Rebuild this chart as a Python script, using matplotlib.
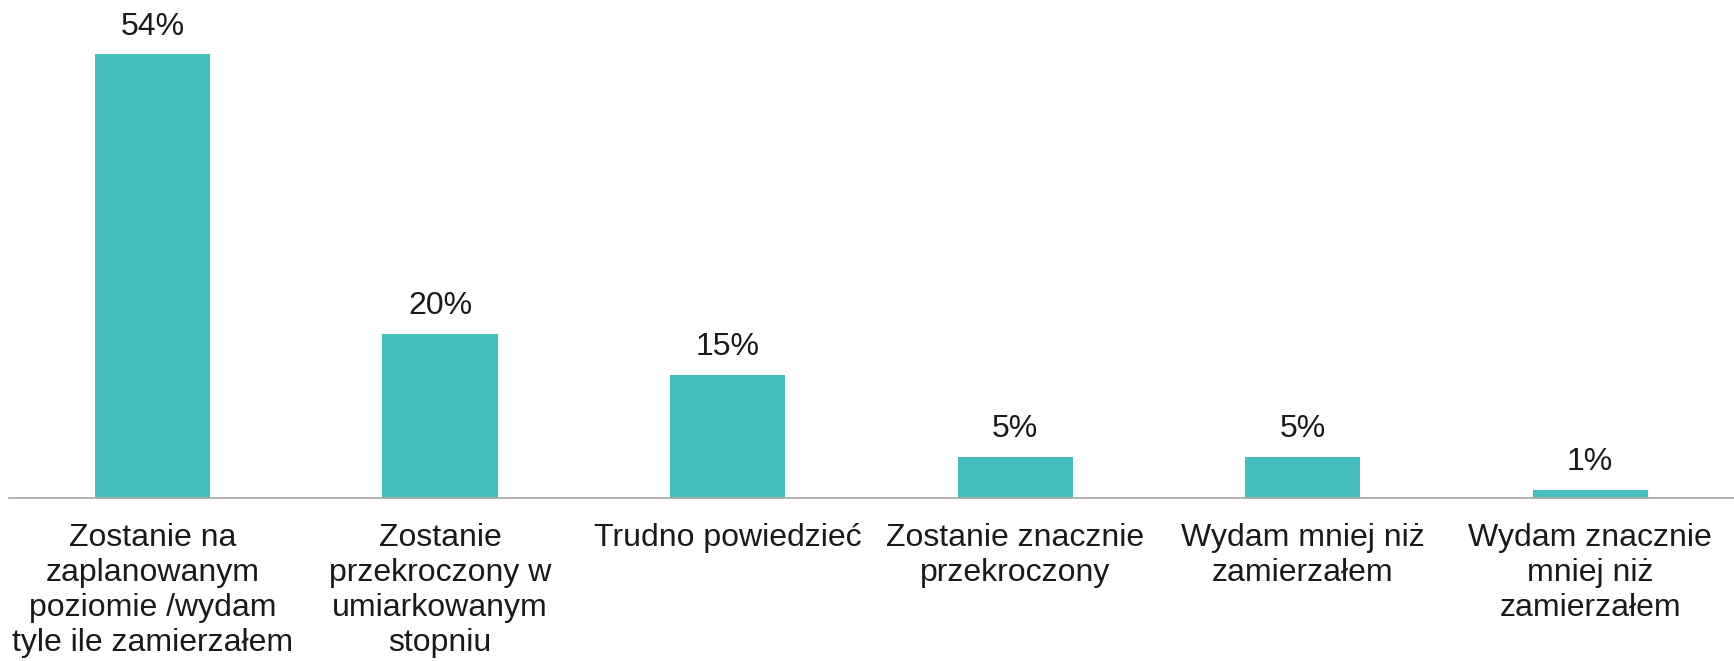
import matplotlib
matplotlib.use("Agg")
import matplotlib.pyplot as plt

categories = [
    "Zostanie na\nzaplanowanym\npoziomie /wydam\ntyle ile zamierzałem",
    "Zostanie\nprzekroczony w\numiarkowanym\nstopniu",
    "Trudno powiedzieć",
    "Zostanie znacznie\nprzekroczony",
    "Wydam mniej niż\nzamierzałem",
    "Wydam znacznie\nmniej niż\nzamierzałem",
]
values = [54, 20, 15, 5, 5, 1]

plt.rcParams["font.family"] = ["Liberation Sans", "DejaVu Sans"]

fig = plt.figure(figsize=(17.34, 6.61), dpi=100)
ax = fig.add_axes([0.005, 0.2466, 0.995, 0.7534])

x = list(range(len(values)))
bars = ax.bar(x, values, width=0.4, color="#45BFBD")
for rect, v in zip(bars, values):
    ax.annotate(f"{v}%", (rect.get_x() + rect.get_width() / 2, v),
                xytext=(0, 9), textcoords="offset points",
                ha="center", va="bottom", fontsize=23, color="#1a1a1a")

ax.set_xlim(-0.5, len(values) - 0.5)
ax.set_ylim(0, 60.6)
ax.set_xticks(x)
ax.set_xticklabels(categories, fontsize=23, color="#1a1a1a", linespacing=1.22)
ax.tick_params(axis="x", length=0, pad=18)
ax.set_yticks([])
for side in ("top", "right", "left"):
    ax.spines[side].set_visible(False)
ax.spines["bottom"].set_color("#A6A6A6")
ax.spines["bottom"].set_linewidth(1.2)

fig.savefig("out.png", dpi=100)
